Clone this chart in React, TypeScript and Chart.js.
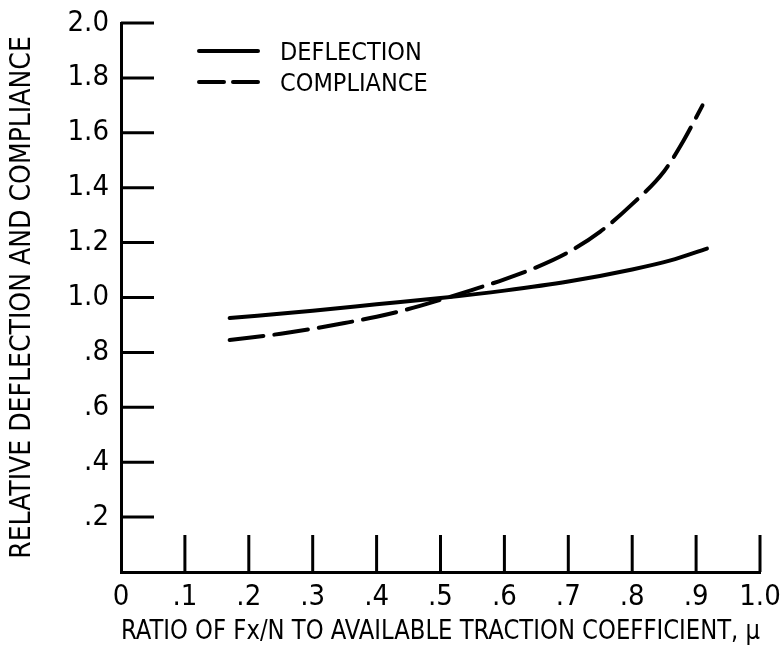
import React, { useEffect, useRef } from "react";
import { Chart, registerables } from "chart.js";

Chart.register(...registerables);

// ---- data ----
const xTickValues = [0, 0.1, 0.2, 0.3, 0.4, 0.5, 0.6, 0.7, 0.8, 0.9, 1.0];
const xTickLabels = ["0", ".1", ".2", ".3", ".4", ".5", ".6", ".7", ".8", ".9", "1.0"];
const yTickValues = [0, 0.2, 0.4, 0.6, 0.8, 1.0, 1.2, 1.4, 1.6, 1.8, 2.0];
const yTickLabels = ["", ".2", ".4", ".6", ".8", "1.0", "1.2", "1.4", "1.6", "1.8", "2.0"];

const deflectionX = [0.17, 0.3, 0.4, 0.5, 0.6, 0.7, 0.8, 0.86, 0.917];
const deflectionY = [0.925, 0.952, 0.975, 0.998, 1.025, 1.058, 1.102, 1.135, 1.178];

const complianceX = [0.17, 0.2, 0.25, 0.3, 0.35, 0.4, 0.45, 0.5, 0.55, 0.6, 0.65, 0.7, 0.75, 0.8, 0.85, 0.88, 0.91];
const complianceY = [0.845, 0.853, 0.868, 0.886, 0.907, 0.93, 0.958, 0.992, 1.028, 1.066, 1.11, 1.165, 1.24, 1.34, 1.46, 1.57, 1.7];

const seriesLabels = ["DEFLECTION", "COMPLIANCE"];
const xTitle = "RATIO OF Fx/N TO AVAILABLE TRACTION COEFFICIENT, \u03bc";
const yTitle = "RELATIVE DEFLECTION AND COMPLIANCE";

const FONT = "'Liberation Sans Narrow', 'DejaVu Sans Condensed', 'Arial Narrow', sans-serif";

const innerTicks = {
  id: "innerTicks",
  beforeDatasetsDraw(chart: any) {
    const { ctx, chartArea, scales } = chart;
    ctx.save();
    ctx.strokeStyle = "#000";
    ctx.lineWidth = 3;
    ctx.lineCap = "butt";
    yTickValues.forEach((v) => {
      if (v === 0) return;
      const y = scales.y.getPixelForValue(v);
      ctx.beginPath();
      ctx.moveTo(chartArea.left, y);
      ctx.lineTo(chartArea.left + 33, y);
      ctx.stroke();
    });
    xTickValues.forEach((v) => {
      if (v === 0) return;
      const x = scales.x.getPixelForValue(v);
      ctx.beginPath();
      ctx.moveTo(x, chartArea.bottom);
      ctx.lineTo(x, chartArea.bottom - 37);
      ctx.stroke();
    });
    ctx.restore();
  },
};

const customLegend = {
  id: "customLegend",
  afterDatasetsDraw(chart: any) {
    const { ctx, chartArea } = chart;
    ctx.save();
    chart.data.datasets.forEach((ds: any, i: number) => {
      const y = chartArea.top + 28 + i * 31;
      const x0 = chartArea.left + 78;
      const x1 = chartArea.left + 137;
      ctx.strokeStyle = ds.borderColor;
      ctx.lineWidth = 4;
      ctx.lineCap = "round";
      ctx.setLineDash(i === 1 ? [25, 9] : []);
      ctx.beginPath();
      ctx.moveTo(x0, y);
      ctx.lineTo(x1, y);
      ctx.stroke();
      ctx.setLineDash([]);
      ctx.fillStyle = "#000";
      ctx.font = `25px ${FONT}`;
      ctx.textAlign = "left";
      ctx.textBaseline = "middle";
      ctx.fillText(ds.label, chartArea.left + 159, y + 2);
    });
    ctx.restore();
  },
};

export default function App() {
  const ref = useRef<HTMLCanvasElement>(null);
  useEffect(() => {
    if (!ref.current) return;
    const chart = new Chart(ref.current, {
      type: "line",
      data: {
        datasets: [
          {
            label: seriesLabels[0],
            data: deflectionX.map((x, i) => ({ x, y: deflectionY[i] })),
            borderColor: "#000",
            borderWidth: 4,
            pointRadius: 0,
            cubicInterpolationMode: "monotone",
            borderCapStyle: "round",
            fill: false,
          },
          {
            label: seriesLabels[1],
            data: complianceX.map((x, i) => ({ x, y: complianceY[i] })),
            borderColor: "#000",
            borderWidth: 4,
            borderDash: [34, 11],
            borderCapStyle: "round",
            pointRadius: 0,
            cubicInterpolationMode: "monotone",
            fill: false,
          },
        ],
      },
      options: {
        animation: false,
        responsive: false,
        layout: { padding: { top: 23, right: 23, left: 0, bottom: 0 } },
        plugins: { legend: { display: false }, tooltip: { enabled: false } },
        scales: {
          x: {
            type: "linear",
            min: 0,
            max: 1,
            afterFit: (s: any) => {
              s.height = 82;
              s.paddingLeft = 0;
              s.paddingRight = 0;
            },
            afterBuildTicks: (s: any) => {
              s.ticks = xTickValues.map((v) => ({ value: v }));
            },
            ticks: {
              autoSkip: false,
              maxRotation: 0,
              padding: 8,
              color: "#000",
              font: { family: FONT, size: 29 },
              callback: (v: any) => {
                const i = xTickValues.findIndex((t) => Math.abs(t - v) < 1e-6);
                return i >= 0 ? xTickLabels[i] : "";
              },
            },
            grid: { display: false, drawTicks: false },
            border: { display: true, color: "#000", width: 3 },
            title: {
              display: true,
              text: xTitle,
              color: "#000",
              font: { family: FONT, size: 27 },
              padding: { top: 0, bottom: 6 },
            },
          },
          y: {
            type: "linear",
            min: 0,
            max: 2,
            afterFit: (s: any) => {
              s.width = 121;
              s.paddingTop = 0;
              s.paddingBottom = 0;
            },
            afterBuildTicks: (s: any) => {
              s.ticks = yTickValues.map((v) => ({ value: v }));
            },
            ticks: {
              autoSkip: false,
              padding: 12,
              color: "#000",
              font: { family: FONT, size: 29 },
              callback: (v: any) => {
                const i = yTickValues.findIndex((t) => Math.abs(t - v) < 1e-6);
                return i >= 0 ? yTickLabels[i] : "";
              },
            },
            grid: { display: false, drawTicks: false },
            border: { display: true, color: "#000", width: 3 },
            title: {
              display: true,
              text: yTitle,
              color: "#000",
              font: { family: FONT, size: 28 },
              padding: { top: 6, bottom: 0 },
            },
          },
        },
      },
      plugins: [innerTicks, customLegend],
    } as any);
    return () => chart.destroy();
  }, []);
  return (
    <div style={{ position: "absolute", left: 0, top: 0, width: 783, height: 654, background: "#fff" }}>
      <canvas ref={ref} width={783} height={654} style={{ display: "block" }} />
    </div>
  );
}
